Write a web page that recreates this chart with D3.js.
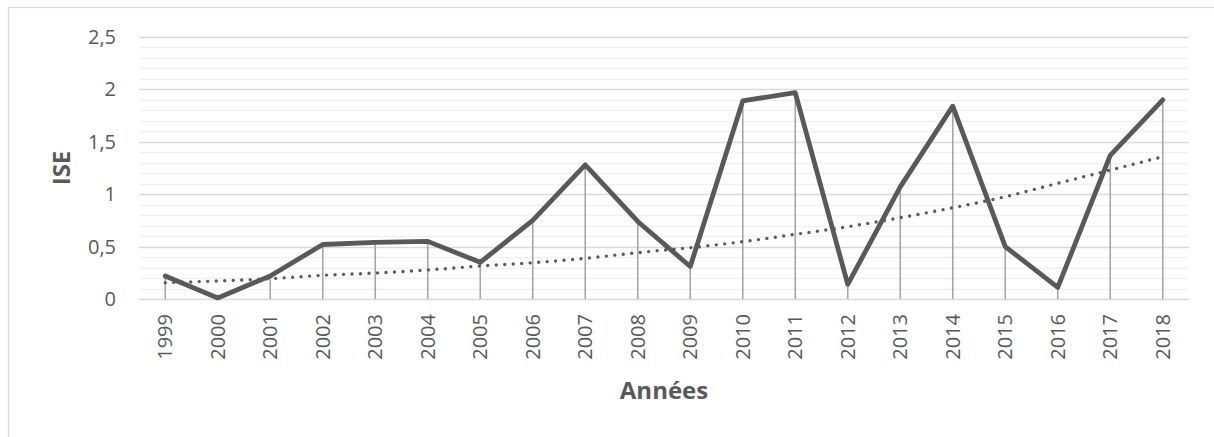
<!DOCTYPE html>
<html>
<head>
<meta charset="utf-8">
<script src="https://cdn.jsdelivr.net/npm/d3@7"></script>
<style>
  html, body { margin: 0; padding: 0; background: #fff; }
  svg { display: block; }
  text { font-family: "Open Sans", "Liberation Sans", sans-serif; fill: #595959; }
</style>
</head>
<body>
<svg id="chart" width="1214" height="437"></svg>
<script>
const years = ["1999","2000","2001","2002","2003","2004","2005","2006","2007","2008",
               "2009","2010","2011","2012","2013","2014","2015","2016","2017","2018"];
const iseValues = [0.22, 0.01, 0.22, 0.52, 0.54, 0.55, 0.35, 0.75, 1.28, 0.74,
                   0.31, 1.89, 1.97, 0.14, 1.07, 1.84, 0.50, 0.11, 1.37, 1.90];
// dotted trendline (exponential) at each year
const trendValues = [0.156, 0.172, 0.194, 0.226, 0.248, 0.277, 0.315, 0.346, 0.388, 0.442,
                     0.49, 0.547, 0.617, 0.69, 0.776, 0.871, 0.976, 1.104, 1.23, 1.358];
const yTicks = [0, 0.5, 1, 1.5, 2, 2.5];
const yMinorTicks = d3.range(0, 25).map(i => i / 10);
const yTitle = "ISE";
const xTitle = "Années";

const svg = d3.select("#chart");
const fmt = v => String(v).replace(".", ",");

// outer chart border
svg.append("rect")
  .attr("x", 8.5).attr("y", 7.5).attr("width", 1220).attr("height", 440)
  .attr("fill", "#fff").attr("stroke", "#d9d9d9").attr("stroke-width", 1.3);

const x = d3.scaleBand().domain(years).range([139, 1189]).padding(0);
const y = d3.scaleLinear().domain([0, 2.5]).range([299, 37]);
const cx = d => x(d) + x.bandwidth() / 2;

// minor gridlines
svg.append("g").selectAll("line").data(yMinorTicks.filter(v => Math.round(v * 10) % 5 !== 0))
  .join("line")
  .attr("x1", 139).attr("x2", 1189)
  .attr("y1", d => Math.round(y(d)) + 0.5).attr("y2", d => Math.round(y(d)) + 0.5)
  .attr("stroke", "#f0f0f0").attr("stroke-width", 1.5);

// major gridlines
svg.append("g").selectAll("line").data(yTicks)
  .join("line")
  .attr("x1", 139).attr("x2", 1189)
  .attr("y1", d => Math.round(y(d)) + 0.5).attr("y2", d => Math.round(y(d)) + 0.5)
  .attr("stroke", "#d9d9d9").attr("stroke-width", 1.5);

// y axis labels
const yAxis = d3.axisLeft(y).tickValues(yTicks).tickFormat(fmt).tickSize(0).tickPadding(0);
const gy = svg.append("g").attr("transform", "translate(116,0)").call(yAxis);
gy.select(".domain").remove();
gy.selectAll("text").attr("font-size", 20).attr("fill", "#595959")
  .style("font-family", "'Open Sans', sans-serif");

// x axis labels (rotated)
const xAxis = d3.axisBottom(x).tickSize(0).tickPadding(0);
const gx = svg.append("g").attr("transform", "translate(0,299)").call(xAxis);
gx.select(".domain").remove();
gx.selectAll(".tick text")
  .attr("font-size", 20).attr("fill", "#595959")
  .style("font-family", "'Open Sans', sans-serif")
  .attr("transform", "rotate(-90)")
  .attr("text-anchor", "end")
  .attr("x", -15).attr("y", 0).attr("dy", "0.36em");

// drop lines
svg.append("g").selectAll("line").data(years)
  .join("line")
  .attr("x1", d => cx(d)).attr("x2", d => cx(d))
  .attr("y1", (d, i) => y(iseValues[i])).attr("y2", y(0))
  .attr("stroke", "#a6a6a6").attr("stroke-width", 1.6);

// main line
const line = d3.line().x((d, i) => cx(years[i])).y(d => y(d));
svg.append("path").datum(iseValues)
  .attr("d", line)
  .attr("fill", "none").attr("stroke", "#595959").attr("stroke-width", 4.8)
  .attr("stroke-linejoin", "round").attr("stroke-linecap", "round");

// trendline (dotted)
const trendLine = d3.line().x((d, i) => cx(years[i])).y(d => y(d)).curve(d3.curveMonotoneX);
svg.append("path").datum(trendValues)
  .attr("d", trendLine)
  .attr("fill", "none").attr("stroke", "#595959").attr("stroke-width", 3.4)
  .attr("stroke-linecap", "round").attr("stroke-dasharray", "0 8.5");

// axis titles
svg.append("text")
  .attr("transform", "translate(61,168) rotate(-90)")
  .attr("text-anchor", "middle").attr("dy", "0.36em")
  .attr("font-size", 24).attr("font-weight", "bold")
  .text(yTitle);

svg.append("text")
  .attr("x", 664).attr("y", 399)
  .attr("text-anchor", "middle")
  .attr("font-size", 24).attr("font-weight", "bold")
  .text(xTitle);
</script>
</body>
</html>
